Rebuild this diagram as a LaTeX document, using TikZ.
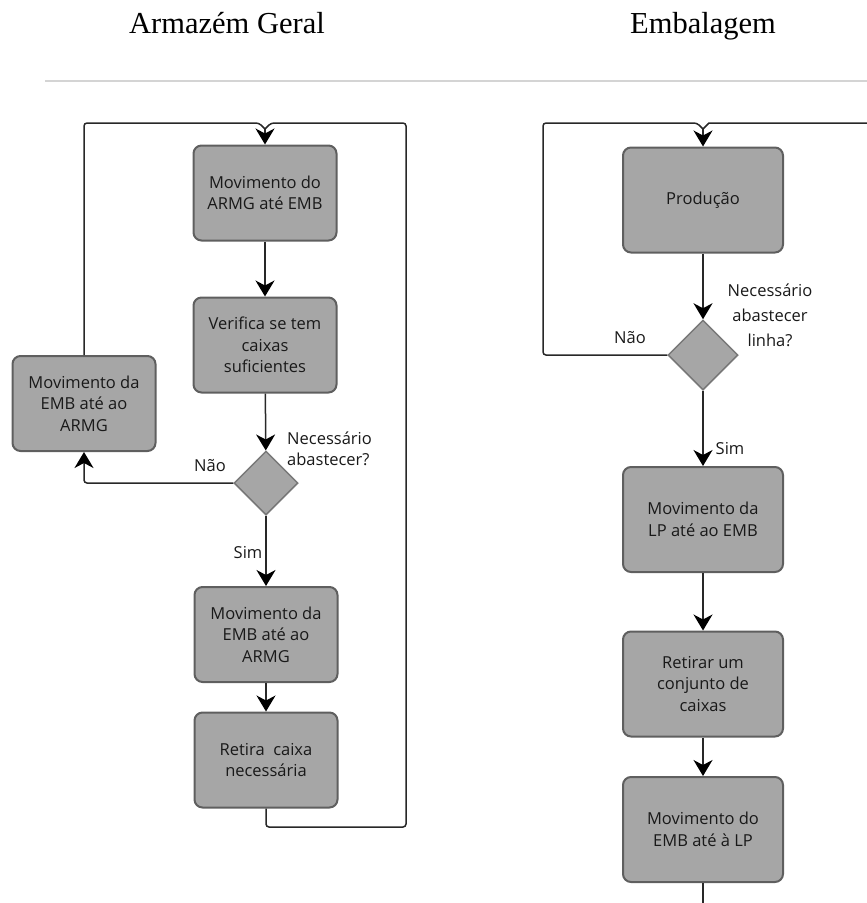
\documentclass[tikz,border=0pt]{standalone}
\usepackage{fontspec}
\setmainfont{Liberation Serif}
\newfontfamily\boxfont{Open Sans}
\usetikzlibrary{arrows.meta,shapes.geometric}
\definecolor{boxfill}{RGB}{166,166,166}
\definecolor{boxedge}{RGB}{95,95,95}
\definecolor{decedge}{RGB}{120,120,120}
\definecolor{rulegray}{RGB}{212,212,212}
\definecolor{linecol}{RGB}{40,40,40}
\begin{document}
\begin{tikzpicture}[x=1pt,y=-1pt,
  stepbox/.style={draw=boxedge, fill=boxfill, line width=2pt, rounded corners=8pt,
    minimum width=143pt, minimum height=95pt, align=center, inner sep=0pt,
    font=\boxfont\fontsize{16.5}{21.5}\selectfont, text=black!90},
  widebox/.style={stepbox, minimum width=160pt, minimum height=105pt},
  decision/.style={diamond, aspect=1, draw=decedge, fill=boxfill, line width=1.5pt,
    inner sep=0pt, minimum width=#1, minimum height=#1},
  lbl/.style={font=\boxfont\fontsize{16.5}{21.5}\selectfont, inner sep=0pt, text=black!90},
  conn/.style={line width=1.5pt, draw=linecol},
  arr/.style={conn, -{Stealth[length=16pt,width=19pt,inset=5pt,color=black]}},
  title/.style={font=\fontsize{30.5}{34}\selectfont, inner sep=0pt, anchor=base}
]
\useasboundingbox (0,0) rectangle (867,903);

% titles and rule
\node[title] (t1) at (227,33) {Armazém Geral};
\node[title] (t2) at (703,33) {Embalagem};
\draw[line width=2pt, rulegray] (45,81) -- (867,81);

% ---------------- left flow ----------------
\node[stepbox] (b1) at (265,193) {Movimento do\\ARMG até EMB};
\node[stepbox] (b2) at (265,345) {Verifica se tem\\caixas\\suficientes};
\node[stepbox] (lb) at (84,403.5) {Movimento da\\EMB até ao\\ARMG};
\node[decision=64pt] (d1) at (266,483) {};
\node[stepbox] (b3) at (266,634.5) {Movimento da\\EMB até ao\\ARMG};
\node[stepbox] (b4) at (266,760) {Retira~~caixa\\necessária};

\coordinate (j1) at (265,129);
\draw[arr] (j1) -- (b1.north);
\draw[arr] (b1) -- (b2);
\draw[arr] (b2) -- (d1);
\draw[arr] (d1) -- (b3);
\draw[arr] (b3) -- (b4);
\draw[arr, rounded corners=3pt] (d1.west) -| (lb.south);
\draw[conn, rounded corners=3pt] (lb.north) |- (259,123) -- (j1);
\draw[conn, rounded corners=3pt] (b4.south) |- (406,827) |- (271,123) -- (j1);

\node[lbl, anchor=west, align=left] (q1) at (287,449) {Necessário\\abastecer?};
\node[lbl] (n1) at (210,466) {Não};
\node[lbl] (s1) at (248,553) {Sim};

% ---------------- right flow ----------------
\node[widebox] (p1) at (703,200) {Produção};
\node[decision=70pt] (d2) at (703,355) {};
\node[widebox] (r2) at (703,519.5) {Movimento da\\LP até ao EMB};
\node[widebox] (r3) at (703,684) {Retirar um\\conjunto de\\caixas};
\node[widebox] (r4) at (703,829.5) {Movimento do\\EMB até à LP};

\coordinate (j2) at (703,129);
\coordinate (e2) at (703,903);
\coordinate (o2) at (867,123);
\draw[arr] (j2) -- (p1.north);
\draw[arr] (p1) -- (d2);
\draw[arr] (d2) -- (r2);
\draw[arr] (r2) -- (r3);
\draw[arr] (r3) -- (r4);
\draw[conn] (r4.south) -- (e2);
\draw[conn, rounded corners=3pt] (d2.west) -| (543,123) -- (697,123) -- (j2);
\draw[conn] (o2) -- (709,123) -- (j2);

\node[lbl, align=center, font=\boxfont\fontsize{16.5}{25}\selectfont] (q2) at (770,315) {Necessário\\abastecer\\linha?};
\node[lbl] (n2) at (630,338) {Não};
\node[lbl] (s2) at (730,449) {Sim};
\end{tikzpicture}
\end{document}
